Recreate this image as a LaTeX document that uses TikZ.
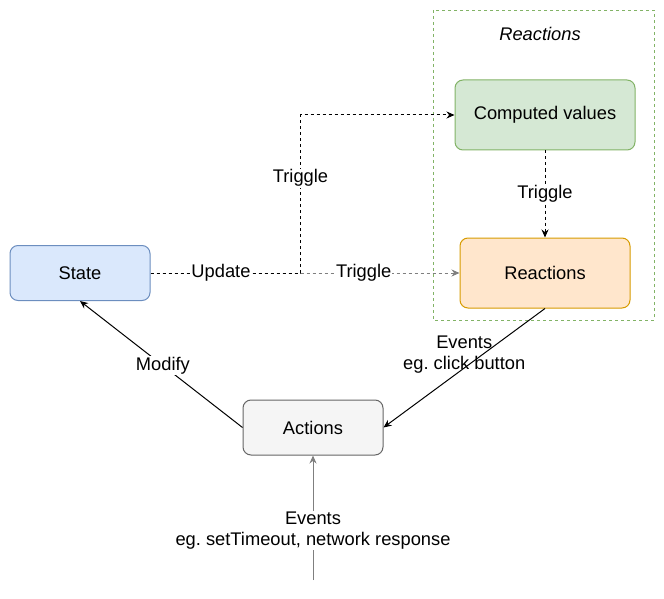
\documentclass[tikz,border=0pt]{standalone}
\usepackage{fontspec}
\setmainfont{Liberation Sans}
\usetikzlibrary{arrows.meta}
\frenchspacing

\definecolor{stateFill}{HTML}{DAE8FC}
\definecolor{stateLine}{HTML}{6C8EBF}
\definecolor{compFill}{HTML}{D5E8D4}
\definecolor{compLine}{HTML}{82B366}
\definecolor{reactFill}{HTML}{FFE6CC}
\definecolor{reactLine}{HTML}{D79B00}
\definecolor{actFill}{HTML}{F5F5F5}
\definecolor{actLine}{HTML}{666666}
\definecolor{lineGrey}{HTML}{7F7F7F}

\tikzset{
  box/.style={draw, rounded corners=8pt, line width=1pt, inner sep=0pt},
  flow/.style={line width=1pt, -{Stealth[length=8pt, width=7pt]}},
  dots/.style={dash pattern=on 3pt off 3pt},
  lbl/.style={fill=white, text=black, inner sep=1pt, align=center},
}

\begin{document}
\begin{tikzpicture}[x=1pt, y=-1pt, font=\fontsize{18.3}{21}\selectfont]
  \useasboundingbox (0,0) rectangle (664,599);

  % Reactions group
  \draw[compLine, line width=0.8pt, dots] (433,10) rectangle (654,320);
  \node (title) at (540,34) {\itshape Reactions};

  % Boxes
  \node[box, fill=stateFill, draw=stateLine, minimum width=140, minimum height=55]
     (state) at (80,273) {State};
  \node[box, fill=compFill, draw=compLine, minimum width=180, minimum height=70]
     (comp) at (545,115) {Computed values};
  \node[box, fill=reactFill, draw=reactLine, minimum width=170, minimum height=70]
     (react) at (545,273) {Reactions};
  \node[box, fill=actFill, draw=actLine, minimum width=140, minimum height=55]
     (act) at (313,427.5) {Actions};
  \coordinate (src) at (313,580);

  % Update / Triggle
  \draw[flow, dots, lineGrey] (state.east) -- node[lbl, pos=0.69] {Triggle} (react.west);
  \draw[flow, dots] (state.east) -- node[lbl, pos=0.47] {Update} ++(150,0)
     |- node[lbl, pos=0.3] {Triggle} (comp.west);
  \draw[flow, dots] (comp.south) -- node[lbl] {Triggle} (react.north);

  % Events
  \draw[flow] (react.south) -- node[align=center, yshift=13pt]
     {Events\\eg. click button} (act.east);
  \draw[flow] (act.west) -- node[lbl, pos=0.49] {Modify} (state.south);
  \draw[flow, lineGrey] (src) -- node[lbl, pos=0.4]
     {Events\\eg. setTimeout, network response} (act.south);
\end{tikzpicture}
\end{document}
